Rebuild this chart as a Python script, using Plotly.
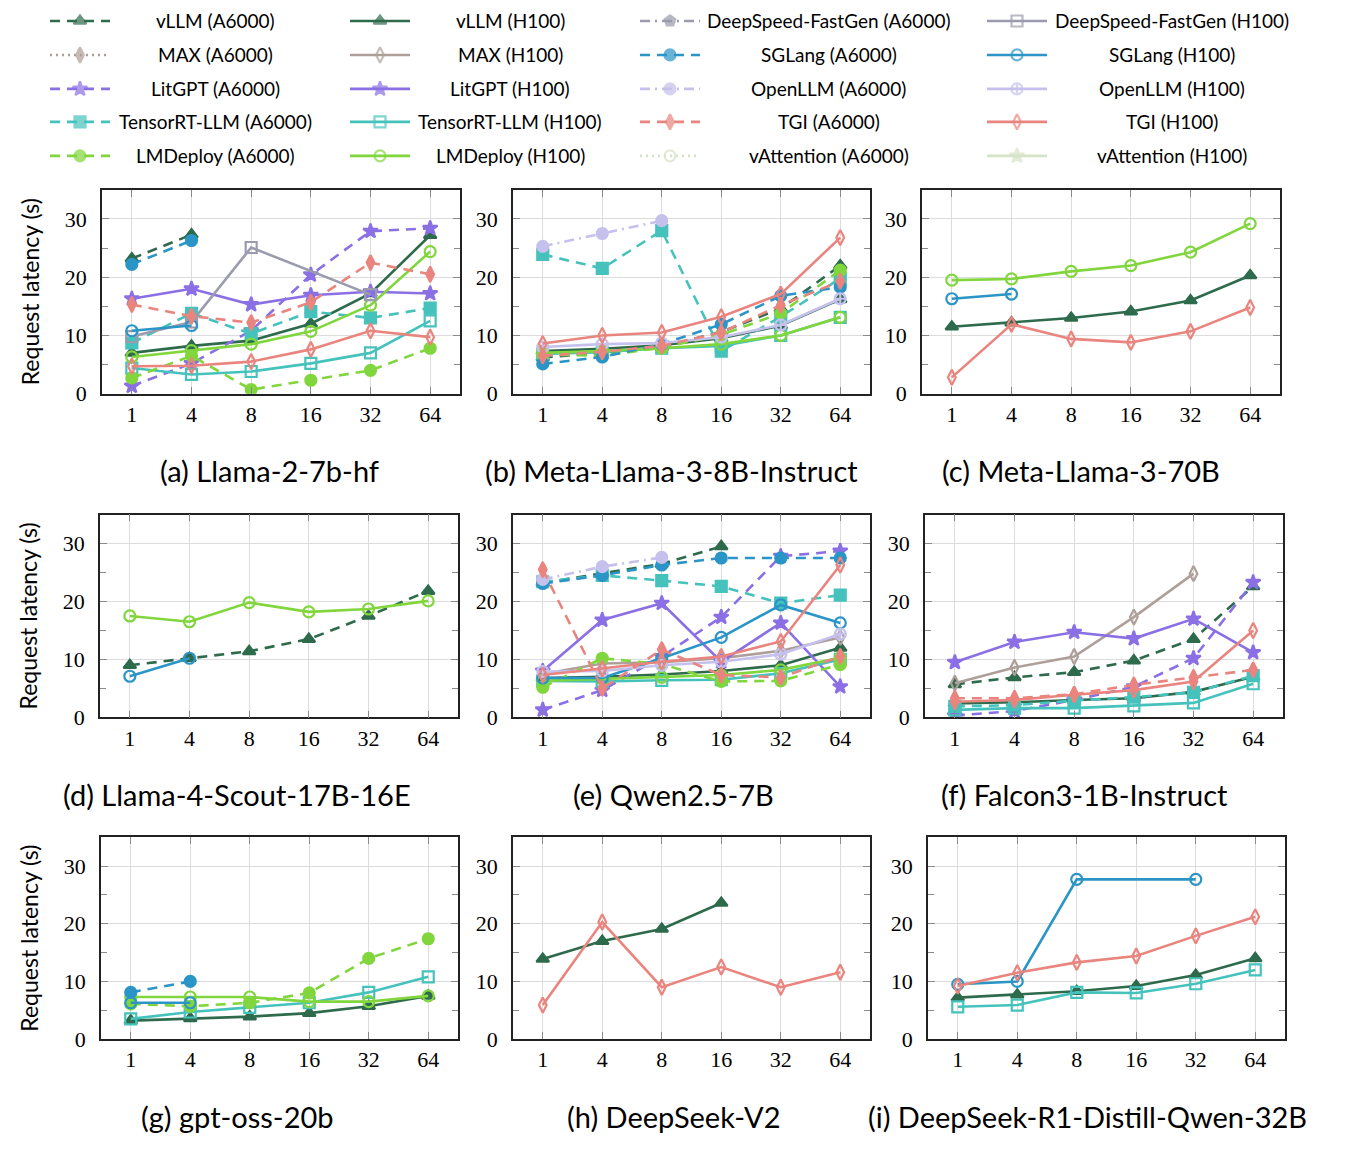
import plotly.graph_objects as go

# batch sizes on the x axis
batch_sizes = ["1", "4", "8", "16", "32", "64"]
y_ticks = [0, 10, 20, 30]

frameworks = ["vLLM", "MAX", "LitGPT", "TensorRT-LLM", "LMDeploy",
              "DeepSpeed-FastGen", "SGLang", "OpenLLM", "TGI", "vAttention"]
gpus = ["A6000", "H100"]

captions = ["(a) Llama-2-7b-hf", "(b) Meta-Llama-3-8B-Instruct", "(c) Meta-Llama-3-70B",
            "(d) Llama-4-Scout-17B-16E", "(e) Qwen2.5-7B", "(f) Falcon3-1B-Instruct",
            "(g) gpt-oss-20b", "(h) DeepSeek-V2", "(i) DeepSeek-R1-Distill-Qwen-32B"]

N = None
# request latency (s) per model
llama2_7b = {
    "vLLM (A6000)": [23.2, 27.3, N, N, N, N],
    "vLLM (H100)": [7.0, 8.2, 9.1, 12.0, 17.2, 27.2],
    "LitGPT (A6000)": [1.3, 5.2, 10.8, 20.4, 27.9, 28.4],
    "LitGPT (H100)": [16.3, 18.0, 15.3, 16.9, 17.5, 17.2],
    "TensorRT-LLM (A6000)": [8.7, 13.8, 10.3, 14.1, 13.0, 14.7],
    "TensorRT-LLM (H100)": [4.4, 3.3, 3.8, 5.2, 7.0, 12.5],
    "LMDeploy (A6000)": [2.7, 6.5, 0.7, 2.3, 4.0, 7.8],
    "LMDeploy (H100)": [6.3, 7.4, 8.5, 10.7, 15.2, 24.4],
    "DeepSpeed-FastGen (H100)": [9.8, 12.3, 25.1, N, 17.0, N],
    "SGLang (A6000)": [22.2, 26.3, N, N, N, N],
    "SGLang (H100)": [10.8, 11.7, N, N, N, N],
    "TGI (A6000)": [15.3, 13.3, 12.2, 15.7, 22.5, 20.5],
    "TGI (H100)": [4.7, 4.8, 5.5, 7.6, 10.8, 9.7],
}
llama3_8b = {
    "vLLM (A6000)": [6.2, 7.0, 8.0, 10.6, 14.6, 22.0],
    "vLLM (H100)": [7.3, 7.7, 8.3, 9.5, 11.7, 16.2],
    "TensorRT-LLM (A6000)": [23.9, 21.5, 28.0, 7.3, 13.2, 19.8],
    "TensorRT-LLM (H100)": [6.8, 7.1, 7.8, 8.2, 10.0, 13.1],
    "LMDeploy (A6000)": [6.7, 6.5, 7.9, 10.1, 13.8, 21.2],
    "LMDeploy (H100)": [7.0, 7.3, 7.8, 8.5, 10.0, 13.1],
    "SGLang (A6000)": [5.1, 6.3, 8.5, 11.9, 16.8, 18.3],
    "OpenLLM (A6000)": [25.3, 27.5, 29.7, N, N, N],
    "OpenLLM (H100)": [8.0, 8.5, 8.7, 9.7, 11.8, 16.3],
    "TGI (A6000)": [6.5, 7.2, 8.2, 10.5, 15.2, 19.3],
    "TGI (H100)": [8.6, 10.0, 10.5, 13.2, 17.1, 26.8],
}
llama3_70b = {
    "vLLM (H100)": [11.5, 12.2, 13.0, 14.1, 16.0, 20.3],
    "LMDeploy (H100)": [19.5, 19.7, 21.0, 22.0, 24.3, 29.2],
    "SGLang (H100)": [16.3, 17.1, N, N, N, N],
    "TGI (H100)": [2.8, 11.9, 9.4, 8.8, 10.7, 14.8],
}
llama4_scout = {
    "vLLM (A6000)": [9.0, 10.2, 11.4, 13.5, 17.5, 21.8],
    "LMDeploy (H100)": [17.5, 16.5, 19.8, 18.2, 18.7, 20.1],
    "SGLang (H100)": [7.1, 10.2, N, N, N, N],
}
qwen25_7b = {
    "vLLM (A6000)": [23.2, 24.9, 26.5, 29.5, N, N],
    "vLLM (H100)": [6.8, 7.0, 7.4, 8.0, 9.0, 12.0],
    "MAX (H100)": [7.5, 9.3, 9.5, 10.2, 11.5, 13.8],
    "LitGPT (A6000)": [1.3, 4.7, 10.5, 17.3, 27.8, 28.7],
    "LitGPT (H100)": [8.0, 16.8, 19.7, 9.6, 16.3, 5.3],
    "TensorRT-LLM (A6000)": [23.4, 24.5, 23.6, 22.6, 19.7, 21.1],
    "TensorRT-LLM (H100)": [6.3, 6.2, 6.4, 6.5, 7.6, 10.0],
    "LMDeploy (A6000)": [5.2, 10.2, 9.2, 6.2, 6.3, 9.1],
    "LMDeploy (H100)": [6.3, 6.6, 6.9, 7.3, 8.2, 10.3],
    "SGLang (A6000)": [23.1, 24.5, 26.3, 27.5, 27.5, 27.5],
    "SGLang (H100)": [6.8, 6.8, 10.2, 13.8, 19.4, 16.3],
    "OpenLLM (A6000)": [23.8, 26.0, 27.6, N, N, N],
    "OpenLLM (H100)": [7.9, 8.0, 9.0, 9.6, 10.9, 14.4],
    "TGI (A6000)": [25.5, 5.0, 11.7, 7.3, 6.9, 10.5],
    "TGI (H100)": [7.3, 8.4, 9.6, 10.5, 13.1, 26.3],
}
falcon3_1b = {
    "vLLM (A6000)": [5.7, 6.9, 7.8, 9.8, 13.5, 22.6],
    "vLLM (H100)": [2.4, 2.6, 3.0, 3.3, 4.4, 7.0],
    "MAX (H100)": [5.9, 8.6, 10.5, 17.3, 24.8, N],
    "LitGPT (A6000)": [0.3, 1.1, 3.0, 5.3, 10.2, 23.3],
    "LitGPT (H100)": [9.5, 13.0, 14.7, 13.6, 17.0, 11.2],
    "TensorRT-LLM (A6000)": [1.9, 2.1, 2.9, 3.5, 4.3, 7.2],
    "TensorRT-LLM (H100)": [1.3, 1.6, 1.6, 2.0, 2.5, 5.8],
    "TGI (A6000)": [3.3, 3.3, 4.0, 5.6, 6.9, 8.2],
    "TGI (H100)": [2.7, 3.0, 3.9, 4.7, 6.2, 15.0],
}
gpt_oss_20b = {
    "vLLM (H100)": [3.2, 3.6, 3.9, 4.5, 5.7, 7.5],
    "TensorRT-LLM (H100)": [3.5, 4.7, 5.5, 6.3, 8.1, 10.8],
    "LMDeploy (A6000)": [6.1, 5.7, 6.3, 8.0, 14.0, 17.4],
    "LMDeploy (H100)": [7.3, 7.3, 7.3, 6.5, 6.5, 7.5],
    "SGLang (A6000)": [8.1, 10.0, N, N, N, N],
    "SGLang (H100)": [6.3, 6.3, N, N, N, N],
}
deepseek_v2 = {
    "vLLM (H100)": [13.9, 17.0, 19.1, 23.6, N, N],
    "TGI (H100)": [5.9, 20.3, 9.0, 12.5, 9.0, 11.6],
}
r1_distill_32b = {
    "vLLM (H100)": [7.2, 7.7, 8.3, 9.2, 11.1, 14.0],
    "TensorRT-LLM (H100)": [5.6, 5.9, 8.1, 8.0, 9.6, 12.0],
    "SGLang (H100)": [9.5, 10.0, 27.7, N, 27.7, N],
    "TGI (H100)": [9.2, 11.5, 13.3, 14.4, 17.9, 21.2],
}
panels = [llama2_7b, llama3_8b, llama3_70b, llama4_scout, qwen25_7b,
          falcon3_1b, gpt_oss_20b, deepseek_v2, r1_distill_32b]

colors = {"vLLM": "#2e6a4c", "MAX": "#ae9f9a", "LitGPT": "#8a70e4",
          "TensorRT-LLM": "#46c2bc", "LMDeploy": "#80d63c", "DeepSpeed-FastGen": "#9a9bad",
          "SGLang": "#2a95c6", "OpenLLM": "#c5c1ec", "TGI": "#e9857e", "vAttention": "#d5e3c6"}
DASH = "10px,7px"
DOT = "2px,4px"
DASHDOT = "10px,5px,2px,5px"
styles = {
    ("vLLM", "A6000"): (DASH, "triangle-up"), ("vLLM", "H100"): ("solid", "triangle-up"),
    ("MAX", "A6000"): (DOT, "diamond-tall"), ("MAX", "H100"): ("solid", "diamond-tall-open"),
    ("LitGPT", "A6000"): (DASH, "star"), ("LitGPT", "H100"): ("solid", "star"),
    ("TensorRT-LLM", "A6000"): (DASH, "square"), ("TensorRT-LLM", "H100"): ("solid", "square-open"),
    ("LMDeploy", "A6000"): (DASH, "circle"), ("LMDeploy", "H100"): ("solid", "circle-open"),
    ("DeepSpeed-FastGen", "A6000"): (DASHDOT, "pentagon"),
    ("DeepSpeed-FastGen", "H100"): ("solid", "square-open"),
    ("SGLang", "A6000"): (DASH, "circle"), ("SGLang", "H100"): ("solid", "circle-open"),
    ("OpenLLM", "A6000"): (DASHDOT, "circle"), ("OpenLLM", "H100"): ("solid", "circle-cross-open"),
    ("TGI", "A6000"): (DASH, "diamond-tall"), ("TGI", "H100"): ("solid", "diamond-tall-open"),
    ("vAttention", "A6000"): (DOT, "circle-open"), ("vAttention", "H100"): ("solid", "star"),
}

# layout frame in pixels; the figure fills the window, which shows ~1146 px of height
W, H = 1348, 1146
# panel boxes in pixels: left, right, top, bottom
boxes = [(102, 460, 190, 394), (513, 870, 190, 394), (922, 1280, 190, 394),
         (100, 458, 515, 718), (513, 870, 515, 718), (925, 1283, 515, 718),
         (101, 458, 838, 1040), (513, 870, 838, 1040), (928, 1285, 838, 1040)]
caption_pos = [(269, 471), (671, 471), (1081, 471),
               (237, 795), (673, 795), (1084, 795),
               (237, 1117), (674, 1117), (1087, 1117)]

SERIF = "Liberation Serif"
SANS = "Lato"
GRID = "#dcdcdc"
TICK = "#8a8a8a"

fig = go.Figure()
layout = dict(autosize=True, margin=dict(l=0, r=0, t=0, b=0),
              paper_bgcolor="white", plot_bgcolor="rgba(0,0,0,0)", showlegend=False)

for i, (data, box) in enumerate(zip(panels, boxes)):
    n = "" if i == 0 else str(i + 1)
    l, r, t, b = box
    layout["xaxis" + n] = dict(
        domain=[l / W, r / W], anchor="y" + n, type="category",
        categoryorder="array", categoryarray=batch_sizes, range=[-0.5, 5.5],
        showgrid=True, gridcolor=GRID, gridwidth=1.2,
        showline=True, linecolor="#222", linewidth=1.6, mirror="allticks",
        ticks="inside", ticklen=7, tickcolor=TICK, tickwidth=1.3,
        ticklabelstandoff=0,
        tickfont=dict(family=SERIF, size=22, color="black"), zeroline=False)
    layout["yaxis" + n] = dict(
        domain=[1 - b / H, 1 - t / H], anchor="x" + n, range=[0, 35],
        tickvals=y_ticks, showgrid=True, gridcolor=GRID, gridwidth=1.2,
        showline=True, linecolor="#222", linewidth=1.6, mirror="allticks",
        ticks="inside", ticklen=7, tickcolor=TICK, tickwidth=1.3,
        ticklabelstandoff=9,
        minor=dict(tickvals=[5, 15, 25], ticks="inside", ticklen=6,
                   tickcolor=TICK, showgrid=False),
        tickfont=dict(family=SERIF, size=22, color="black"), zeroline=False)
    if i % 3 == 0:
        layout["yaxis" + n]["title"] = dict(text="Request latency (s)", standoff=19,
                                            font=dict(family=SANS, size=23, color="black"))
    for fw in frameworks:
        for g in gpus:
            key = f"{fw} ({g})"
            if key not in data:
                continue
            dash, sym = styles[(fw, g)]
            fig.add_trace(go.Scatter(
                x=batch_sizes, y=data[key], xaxis="x" + n, yaxis="y" + n,
                mode="lines+markers", connectgaps=True, name=key,
                line=dict(color=colors[fw], width=2.6, dash=dash),
                marker=dict(symbol=sym, size=11, color=colors[fw],
                            line=dict(color=colors[fw], width=2.2))))

annotations = []
for text, (cx, cy) in zip(captions, caption_pos):
    annotations.append(dict(text=text, x=cx / W, y=1 - cy / H, xref="paper", yref="paper",
                            showarrow=False, xanchor="center", yanchor="middle",
                            font=dict(family=SANS, size=29, color="black")))

# hand-made legend: 4 columns x 5 rows, on a hidden pixel-space axis
layout["xaxis10"] = dict(domain=[0, 1], range=[0, W], visible=False, anchor="y10")
layout["yaxis10"] = dict(domain=[0, 1], range=[H, 0], visible=False, anchor="x10")
col_x = [50, 350, 640, 987]
col_label = [215, 510, 829, 1172]
row_y = [21, 55, 89, 122, 156]
for k, fw in enumerate(frameworks):
    for j, g in enumerate(gpus):
        col = (0 if k < 5 else 2) + j
        ry = row_y[k % 5]
        x0 = col_x[col]
        dash, sym = styles[(fw, g)]
        fig.add_trace(go.Scatter(
            x=[x0, x0 + 30, x0 + 60], y=[ry, ry, ry], xaxis="x10", yaxis="y10",
            mode="lines+markers", hoverinfo="skip",
            line=dict(color=colors[fw], width=2.6, dash=dash),
            marker=dict(symbol=sym, size=[0, 11, 0], color=colors[fw],
                        line=dict(color=colors[fw], width=2.2))))
        annotations.append(dict(text=f"{fw} ({g})", x=col_label[col] / W, y=1 - ry / H,
                                xref="paper", yref="paper", showarrow=False,
                                xanchor="center", yanchor="middle",
                                font=dict(family=SANS, size=19, color="black")))

layout["annotations"] = annotations
fig.update_layout(**layout)
page_css = ("document.documentElement.style.overflow='hidden';"
            "document.body.style.margin='0';"
            "document.body.style.overflow='hidden';"
            "window.dispatchEvent(new Event('resize'));")
fig.write_html("out.html", config={"displayModeBar": False, "responsive": True},
               default_width="100vw", default_height="100vh", post_script=page_css)
